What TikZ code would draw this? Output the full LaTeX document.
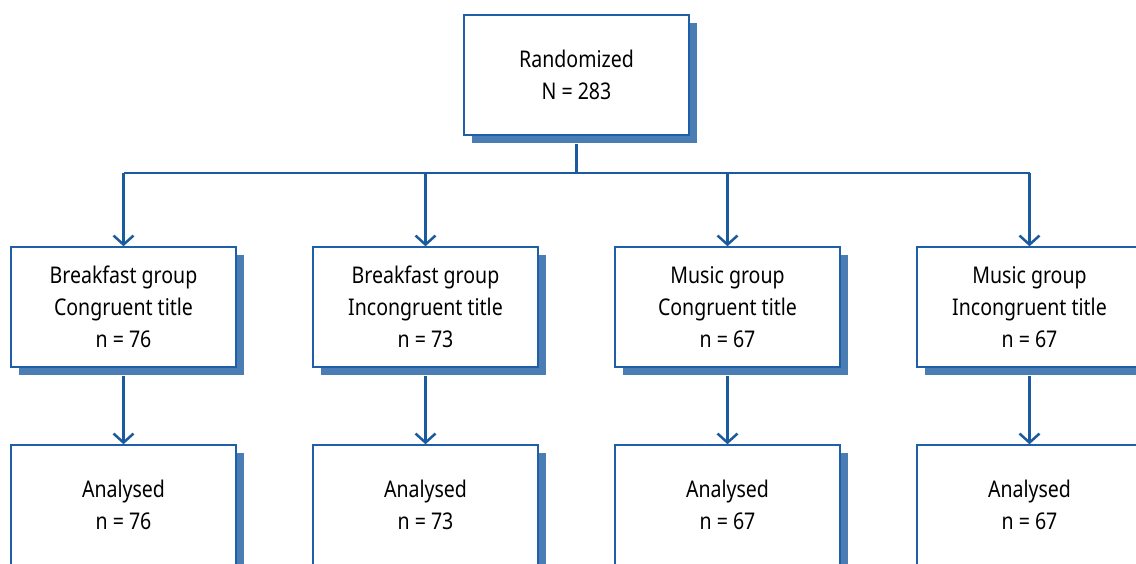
\documentclass[tikz,border=0pt]{standalone}
\usepackage{fontspec}
\setmainfont{Noto Sans}[FakeStretch=0.85]
\usetikzlibrary{arrows.meta,shadows,positioning}
\definecolor{boxblue}{HTML}{1F5FA8}
\definecolor{linkblue}{HTML}{1A5A9E}
\definecolor{shadowblue}{HTML}{4A7DB4}
\tikzset{
  flowbox/.style={draw=boxblue, line width=1.5pt, fill=white, minimum width=225pt, minimum height=120pt,
    align=center, inner sep=0pt, font=\fontsize{23}{32}\selectfont,
    drop shadow={shadow xshift=8pt, shadow yshift=-8pt, fill=shadowblue, opacity=1}},
  link/.style={draw=linkblue, line width=2.5pt},
  linkarrow/.style={link, -{Straight Barb[length=9pt,width=20pt,line width=2.5pt]}}
}
\begin{document}
\begin{tikzpicture}[x=1pt,y=-1pt]
\useasboundingbox (0,0) rectangle (1136,564);
\node[flowbox] (rand) at (576.5,75) {Randomized\\N = 283};
\node[flowbox] (g1) at (123.5,307) {Breakfast group\\Congruent title\\n = 76};
\node[flowbox] (g2) at (425.5,307) {Breakfast group\\Incongruent title\\n = 73};
\node[flowbox] (g3) at (727.5,307) {Music group\\Congruent title\\n = 67};
\node[flowbox] (g4) at (1029.5,307) {Music group\\Incongruent title\\n = 67};
\node[flowbox] (a1) at (123.5,505) {Analysed\\n = 76};
\node[flowbox] (a2) at (425.5,505) {Analysed\\n = 73};
\node[flowbox] (a3) at (727.5,505) {Analysed\\n = 67};
\node[flowbox] (a4) at (1029.5,505) {Analysed\\n = 67};
\coordinate (split) at (576.5,173);
\draw[link] ([yshift=-8pt]rand.south) -- (split);
\draw[link] (g1.north |- split) -- (g4.north |- split);
\foreach \g in {g1,g2,g3,g4}{
  \draw[linkarrow] (\g.north |- split) -- (\g.north);
}
\foreach \g/\a in {g1/a1,g2/a2,g3/a3,g4/a4}{
  \draw[linkarrow] ([yshift=-8pt]\g.south) -- (\a.north);
}
\end{tikzpicture}
\end{document}
